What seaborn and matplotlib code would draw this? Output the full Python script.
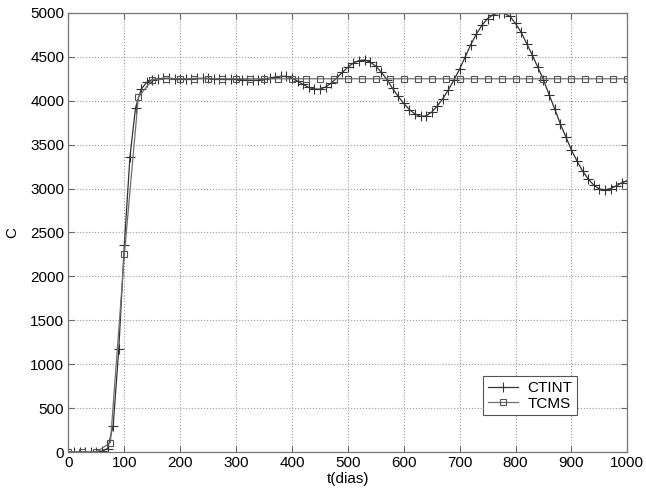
import pandas as pd
import matplotlib
matplotlib.use('Agg')
import matplotlib.pyplot as plt
import seaborn as sns

# CTINT, read every 10 days
t_ctint = list(range(0, 1001, 10))
c_ctint = [0, 0, 0, 0, 0, 5, 10, 40, 300, 1170,
           2360, 3360, 3920, 4130, 4210, 4240, 4250, 4255, 4255, 4252,
           4250, 4250, 4252, 4254, 4255, 4254, 4250, 4246, 4243, 4242,
           4243, 4240, 4235, 4232, 4235, 4245, 4258, 4270, 4278, 4278,
           4258, 4223, 4185, 4152, 4133, 4132, 4157, 4200, 4259, 4323,
           4382, 4430, 4458, 4464, 4441, 4393, 4323, 4240, 4140, 4050,
           3970, 3900, 3850, 3822, 3828, 3870, 3940, 4025, 4125, 4240,
           4360, 4500, 4640, 4760, 4860, 4935, 4980, 5000, 4995, 4960,
           4880, 4780, 4650, 4520, 4380, 4240, 4070, 3910, 3740, 3590,
           3440, 3315, 3200, 3110, 3040, 2995, 2985, 3000, 3030, 3065,
           3090]

# TCMS, read every 25 days
t_tcms = list(range(0, 1001, 25))
c_tcms = [0, 0, 0, 106, 2250, 4040, 4240] + [4250] * 34

plt.figure(figsize=(6.46, 4.97), dpi=100)
plt.rcParams['font.family'] = ['Liberation Sans', 'DejaVu Sans']
ax = plt.gca()
ax.set_position([0.106, 0.0905, 0.865, 0.8835])

sns.lineplot(x=t_ctint, y=c_ctint, ax=ax, color='#333333', lw=0.9,
             marker='+', ms=6.5, mew=0.8, mec='#333333', label='CTINT')
sns.lineplot(x=t_tcms, y=c_tcms, ax=ax, color='#707070', lw=0.9,
             marker='s', ms=5, mew=0.8, mfc='none', mec='#555555', label='TCMS')

ax.set_xlim(0, 1000)
ax.set_ylim(0, 5000)
ax.set_xticks(range(0, 1001, 100))
ax.set_yticks(range(0, 5001, 500))
ax.grid(True, linestyle=':', color='#999999', lw=0.8)
ax.tick_params(direction='in', top=True, right=True, labelsize=11,
               color='#666666', length=4, pad=3)
for s in ax.spines.values():
    s.set_color('#777777')
    s.set_linewidth(0.9)

ax.set_xlabel('t(dias)', fontsize=11, labelpad=1)
ax.set_ylabel('C', fontsize=11, labelpad=8)

leg = ax.legend(loc='lower right', bbox_to_anchor=(0.91, 0.084),
                borderaxespad=0, fancybox=False, framealpha=1,
                edgecolor='#555555', fontsize=11, handlelength=2.0,
                borderpad=0.3, labelspacing=0.1, handletextpad=0.6)
leg.get_frame().set_linewidth(0.8)

plt.savefig('out.png', dpi=100)
